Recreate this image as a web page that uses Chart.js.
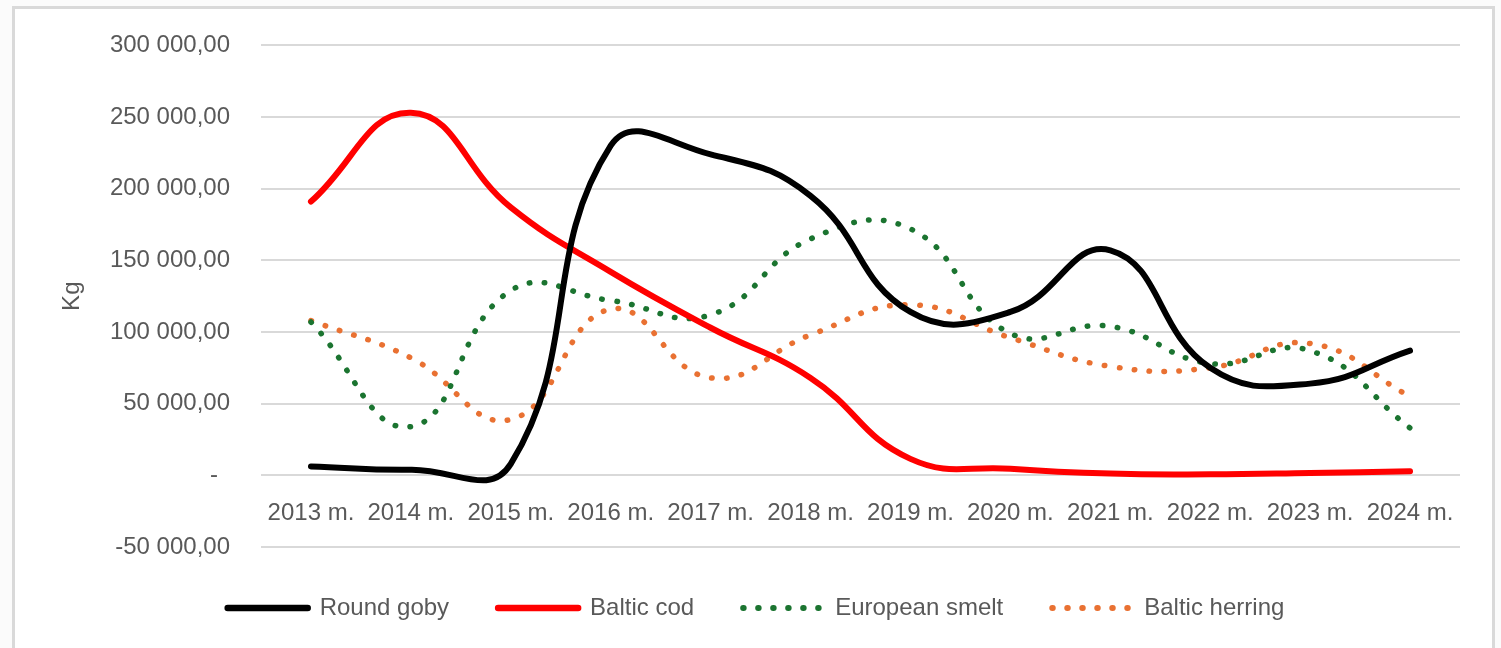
<!DOCTYPE html>
<html><head><meta charset="utf-8">
<script src="https://cdn.jsdelivr.net/npm/chart.js@4/dist/chart.umd.min.js"></script>
<style>
html,body{margin:0;padding:0;background:#fbfbfb;width:1501px;height:648px;overflow:hidden;}
#frame{position:absolute;left:12px;top:6px;width:1483px;height:680px;border:3px solid #d9d9d9;background:#fff;box-sizing:border-box;}
#wrap{position:absolute;left:0;top:0;width:1501px;height:648px;}
</style></head>
<body>
<div id="frame"></div>
<div id="wrap"><canvas id="c" width="1501" height="648"></canvas></div>
<script>
const years = ['2013 m.','2014 m.','2015 m.','2016 m.','2017 m.','2018 m.','2019 m.','2020 m.','2021 m.','2022 m.','2023 m.','2024 m.'];
const roundGoby = [6200, 3900, 8000, 230000, 224000, 195000, 114000, 114000, 157000, 75000, 64000, 87000];
const balticCod = [191000, 253000, 187000, 142000, 103000, 68000, 11500, 4600, 1200, 700, 1600, 2800];
const europeanSmelt = [107000, 34000, 129000, 122000, 112000, 165000, 172000, 99000, 104000, 78000, 87000, 33000];
const balticHerring = [108000, 82000, 39000, 116000, 68000, 98000, 119000, 96000, 76000, 75000, 92000, 55000];
const yMin = -50000, yMax = 300000, yStep = 50000;
const axisTitle = 'Kg';

function fmt(v){
  if (v === 0) return '-\u2002';
  const s = Math.abs(v).toFixed(0).replace(/\B(?=(\d{3})+(?!\d))/g, ' ');
  return (v < 0 ? '-' : '') + s + ',00';
}

const textColor = '#595959';
const font = {family: '"Liberation Sans", Arial, sans-serif', size: 24};

const legendShift = {
  id: 'legendShift',
  afterLayout(chart) {
    const l = chart.legend;
    if (l) { l.left += 26; l.right += 26; }
  }
};

new Chart(document.getElementById('c'), {
  type: 'line',
  data: {
    labels: years,
    datasets: [
      {label: 'Round goby', data: roundGoby, borderColor: '#000000', backgroundColor: '#000000', borderWidth: 6, borderCapStyle: 'round'},
      {label: 'Baltic cod', data: balticCod, borderColor: '#ff0000', backgroundColor: '#ff0000', borderWidth: 6, borderCapStyle: 'round'},
      {label: 'European smelt', data: europeanSmelt, borderColor: '#1b7430', backgroundColor: '#1b7430', borderWidth: 5.5, borderDash: [0.5, 14.5], borderCapStyle: 'round'},
      {label: 'Baltic herring', data: balticHerring, borderColor: '#e97132', backgroundColor: '#e97132', borderWidth: 5.5, borderDash: [0.5, 14.5], borderCapStyle: 'round'}
    ]
  },
  options: {
    responsive: false,
    animation: false,
    layout: {padding: {left: 0, right: 41, top: 42, bottom: 18}},
    elements: {
      line: {tension: 0.45, fill: false},
      point: {radius: 0, hoverRadius: 0}
    },
    scales: {
      x: {
        type: 'category',
        position: {y: 0},
        offset: true,
        grid: {display: false, drawTicks: false},
        border: {display: false},
        ticks: {color: textColor, font: font, padding: 24, maxRotation: 0, autoSkip: false}
      },
      y: {
        min: yMin, max: yMax,
        grid: {color: '#d9d9d9', lineWidth: 2, drawTicks: false},
        border: {display: false},
        ticks: {stepSize: yStep, color: textColor, font: font, padding: 31, callback: v => fmt(v)},
        title: {display: true, text: axisTitle, color: textColor, font: font, padding: {top: 58, bottom: 0}},
        afterFit: s => { s.width = 261; }
      }
    },
    plugins: {
      tooltip: {enabled: false},
      legend: {
        position: 'bottom',
        labels: {
          usePointStyle: true,
          pointStyle: 'line',
          pointStyleWidth: 80,
          color: textColor,
          font: font,
          padding: 49,
          generateLabels: chart => chart.data.datasets.map((ds, i) => ({
            text: ds.label,
            fillStyle: ds.borderColor,
            strokeStyle: ds.borderColor,
            lineWidth: ds.borderWidth + 0.5,
            lineDash: ds.borderDash || [],
            lineCap: 'round',
            pointStyle: 'line',
            fontColor: textColor,
            hidden: false,
            datasetIndex: i
          }))
        }
      }
    }
  },
  plugins: [legendShift]
});
</script>
</body></html>
